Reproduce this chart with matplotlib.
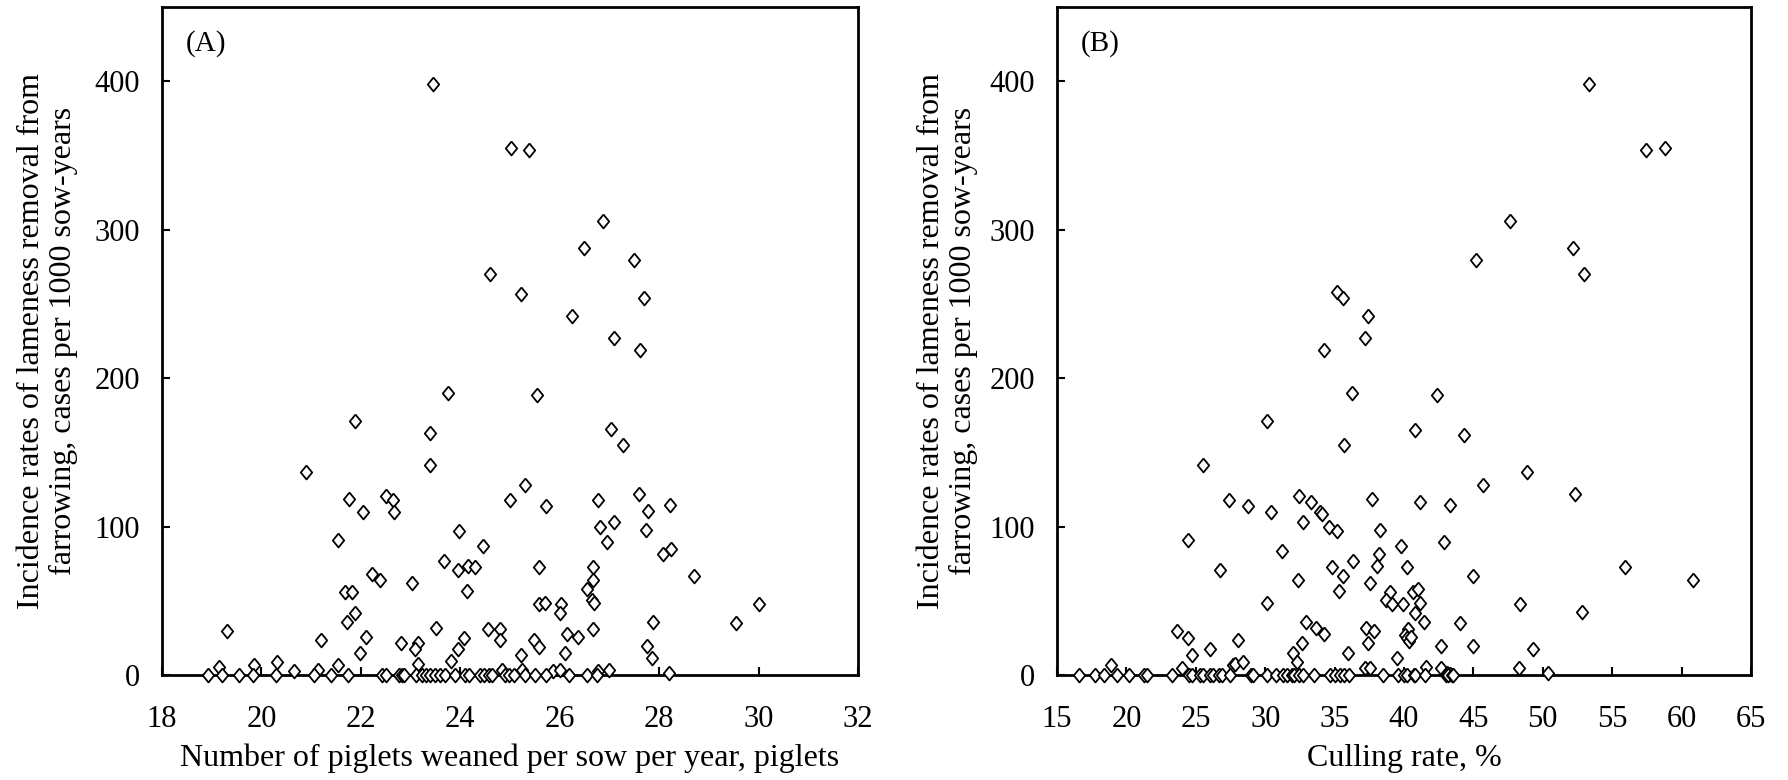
import matplotlib
matplotlib.use("Agg")
import matplotlib.pyplot as plt
import numpy as np

plt.rcParams['font.family'] = ['Liberation Serif', 'DejaVu Serif']

# panel A: piglets weaned per sow per year vs lameness removal rate
weaned = [23.45, 25.02, 25.39, 26.87, 26.49, 27.49, 24.6, 25.23, 27.7, 26.24, 27.1, 27.62,
          23.75, 25.54, 21.88, 23.4, 23.4, 20.9, 27.04, 27.27, 25.31, 25.0, 25.72, 21.76,
          22.04, 22.5, 22.65, 22.66, 26.77, 27.59, 27.78, 28.21, 26.81, 27.1, 27.74, 26.95,
          21.55, 23.97, 24.45, 23.67, 23.96, 24.16, 24.3, 24.14, 25.58, 28.07, 28.24, 28.7,
          26.67, 26.67, 26.55, 26.64, 26.69, 22.22, 22.38, 23.03, 21.69, 21.83, 21.88, 21.73,
          25.59, 25.71, 26.03, 26.01, 30.0, 29.55, 27.87, 19.3, 21.19, 22.1, 21.99, 23.51,
          24.55, 24.79, 24.79, 24.08, 23.95, 23.82, 22.81, 23.14, 23.08, 23.14, 25.49, 25.58,
          25.22, 26.14, 26.36, 26.67, 26.1, 27.76, 27.86, 28.19, 19.15, 19.85, 20.31, 20.65,
          21.13, 21.55, 24.83, 25.24, 25.87, 26.0, 26.77, 27.0]
rate_a = [398, 355, 354, 306, 288, 280, 270, 257, 254, 242, 227, 219,
          190, 189, 171, 163, 142, 137, 166, 155, 128, 118, 114, 119,
          110, 121, 118, 110, 118, 122, 111, 115, 100, 103, 98, 90,
          91, 97, 87, 77, 71, 74, 73, 57, 73, 82, 85, 67,
          73, 64, 58, 51, 49, 68, 64, 62, 56, 56, 42, 36,
          48, 49, 48, 42, 48, 35, 36, 30, 24, 26, 15, 32,
          31, 31, 24, 25, 18, 10, 22, 22, 18, 8, 24, 19,
          14, 28, 26, 31, 15, 20, 12, 2, 6, 7, 9, 3,
          4, 7, 4, 4, 3, 4, 3, 4]
weaned_zero = [18.93, 19.2, 19.55, 19.83, 20.29, 21.05, 21.4, 21.75, 22.43, 22.5, 22.77,
               22.83, 22.87, 23.1, 23.23, 23.3, 23.4, 23.5, 23.6, 23.69, 23.9, 24.1, 24.17,
               24.4, 24.47, 24.57, 24.63, 24.9, 24.97, 25.07, 25.3, 25.5, 25.73, 26.18,
               26.55, 26.75]

# panel B: culling rate vs lameness removal rate
culling = [53.32, 57.47, 58.84, 47.65, 52.14, 45.17, 52.98, 35.17, 35.62, 37.41, 37.22, 34.25,
           36.27, 42.36, 30.11, 40.76, 44.3, 35.66, 25.5, 48.87, 45.71, 52.33, 27.37, 28.74,
           30.41, 32.43, 33.3, 33.91, 34.06, 32.73, 34.6, 35.17, 37.68, 41.18, 43.31, 38.29,
           24.44, 31.21, 39.81, 42.89, 38.17, 36.35, 34.79, 35.59, 38.06, 40.19, 26.72, 32.39,
           37.56, 35.28, 44.95, 55.94, 60.85, 30.15, 38.97, 38.67, 39.12, 39.89, 40.65, 40.99,
           41.18, 40.76, 41.45, 48.37, 52.82, 44.03, 32.92, 33.68, 34.25, 23.64, 24.47, 28.01,
           26.04, 24.74, 32.62, 32.01, 32.28, 37.26, 37.87, 37.37, 35.93, 39.5, 40.27, 40.08,
           40.19, 40.38, 40.5, 42.66, 44.95, 49.32, 48.26, 50.35, 18.88, 24.0, 27.67, 27.8,
           28.39, 37.2, 37.56, 41.6, 42.7, 43.1, 43.3]
rate_b = [398, 354, 355, 306, 288, 280, 270, 258, 254, 242, 227, 219,
          190, 189, 171, 165, 162, 155, 142, 137, 128, 122, 118, 114,
          110, 121, 117, 110, 109, 103, 100, 97, 119, 117, 115, 98,
          91, 84, 87, 90, 82, 77, 73, 67, 74, 73, 71, 64,
          62, 57, 67, 73, 64, 49, 56, 51, 48, 48, 56, 58,
          49, 42, 36, 48, 43, 35, 36, 32, 28, 30, 25, 24,
          18, 14, 22, 15, 9, 32, 30, 22, 15, 12, 31, 27,
          25, 23, 26, 20, 20, 18, 5, 2, 7, 5, 7, 8,
          9, 5, 5, 6, 5, 2, 1]
culling_zero = [16.6, 17.7, 18.4, 19.35, 20.2, 21.3, 21.45, 23.25, 24.5, 24.7, 25.3, 25.55,
                26.0, 26.25, 26.7, 26.9, 27.45, 28.96, 29.15, 30.1, 30.8, 31.3, 31.6, 31.9,
                32.1, 32.4, 32.7, 33.5, 34.66, 35.0, 35.4, 35.7, 36.0, 38.5, 39.6, 40.0,
                40.2, 40.7, 40.8, 41.5, 43.0, 43.2, 43.45, 43.56]

ylab = "Incidence rates of lameness removal from\nfarrowing, cases per 1000 sow-years"
diamond = [(0, 1), (0.82, 0), (0, -1), (-0.82, 0), (0, 1)]

fig = plt.figure(figsize=(17.88, 7.8), dpi=100)
ax1 = fig.add_axes([0.0906, 0.134, 0.3893, 0.857])
ax2 = fig.add_axes([0.5912, 0.134, 0.3881, 0.857])

panels = [
    (ax1, weaned, rate_a, weaned_zero, (18, 32), np.arange(18, 33, 2), "(A)",
     "Number of piglets weaned per sow per year, piglets", -0.121),
    (ax2, culling, rate_b, culling_zero, (15, 65), np.arange(15, 66, 5), "(B)",
     "Culling rate, %", -0.114),
]

for ax, xs, ys, xz, xlim, xt, tag, xlab, yl_pos in panels:
    allx = list(xs) + list(xz)
    ally = list(ys) + [0] * len(xz)
    ax.plot(allx, ally, linestyle='none', marker=diamond, markersize=10,
            markerfacecolor='white', markeredgecolor='black', markeredgewidth=1.3,
            clip_on=False, zorder=3)
    ax.set_xlim(*xlim)
    ax.set_ylim(0, 450)
    ax.set_xticks(xt)
    ax.set_yticks([0, 100, 200, 300, 400])
    ax.tick_params(direction='in', length=6, width=1.5, labelsize=22)
    ax.tick_params(axis='x', pad=21)
    ax.tick_params(axis='y', pad=16)
    for s in ax.spines.values():
        s.set_linewidth(2)
    ax.text(0.034, 0.946, tag, transform=ax.transAxes, fontsize=21, va='center', ha='left')
    ax.set_xlabel(xlab, fontsize=23, va='baseline')
    ax.xaxis.set_label_coords(0.5, -0.135)
    ax.set_ylabel(ylab, fontsize=23, linespacing=1.12)
    ax.yaxis.set_label_coords(yl_pos, 0.5)

fig.savefig("out.png", dpi=100)
